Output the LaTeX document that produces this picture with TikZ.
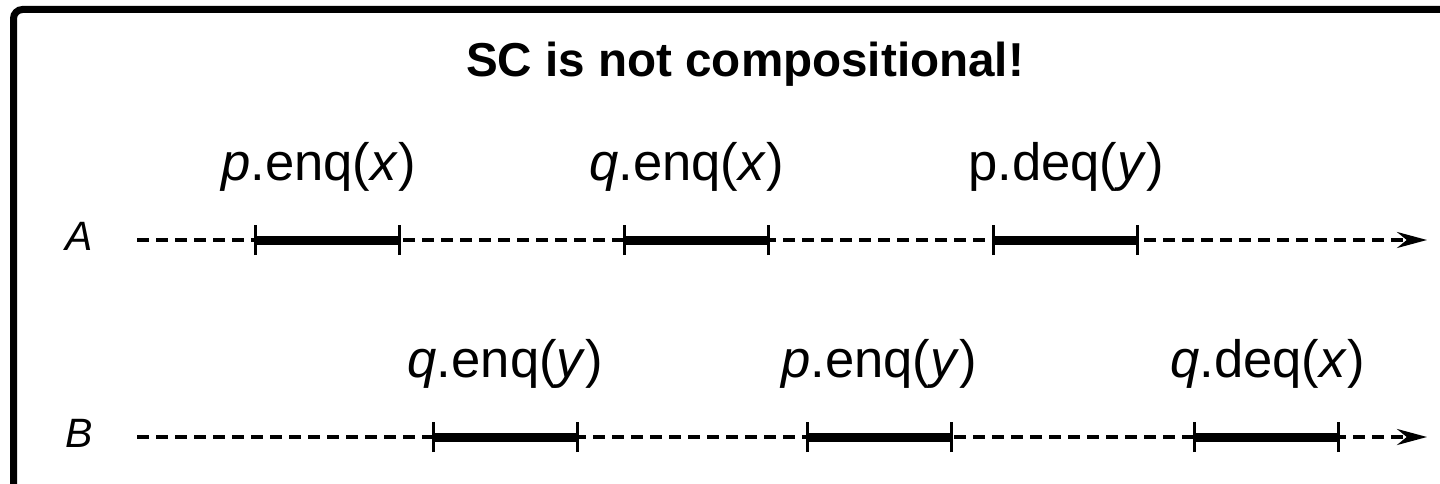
\documentclass[tikz,border=0pt]{standalone}
\usepackage{fontspec}
\setmainfont{Liberation Sans}
\usetikzlibrary{arrows.meta}
\tikzset{
  timeline/.style={line width=3.5pt, dash pattern=on 12pt off 7pt, -{Stealth[length=30pt,width=16pt]}},
  interval/.style={line width=9pt},
  tick/.style={line width=3pt},
  oplabel/.style={anchor=base, inner sep=0pt, font=\fontsize{52.6}{60}\selectfont},
  proclabel/.style={anchor=base, inner sep=0pt, font=\fontsize{41}{48}\selectfont\itshape},
  title/.style={anchor=base, inner sep=0pt, font=\fontsize{47.6}{56}\selectfont\bfseries}
}
\begin{document}
\begin{tikzpicture}[x=1pt,y=-1pt]
\useasboundingbox (0,0) rectangle (1440,484);
\begin{scope}
\clip (0,0) rectangle (1440,484);
\draw[line width=7pt, rounded corners=9pt] (13.5,9.5) rectangle (1470,520);
\end{scope}
\node[title] (title) at (745,77) {SC is not compositional!};
% process A
\node[proclabel] (A) at (79,250) {A};
\coordinate (As) at (137,240);
\coordinate (Ae) at (1427,240);
\draw[timeline] (As) -- (Ae);
\foreach \a/\b/\n in {255/399/a1, 624/768/a2, 993/1137/a3}{
  \coordinate (\n l) at (\a,240);
  \coordinate (\n r) at (\b,240);
  \draw[interval] (\n l) -- (\n r);
  \draw[tick] ([yshift=-15pt]\n l) -- ([yshift=15pt]\n l);
  \draw[tick] ([yshift=-15pt]\n r) -- ([yshift=15pt]\n r);
}
\node[oplabel] (la1) at (318.5,180) {\textit{p}.enq(\textit{x})};
\node[oplabel] (la2) at (686.5,180) {\textit{q}.enq(\textit{x})};
\node[oplabel] (la3) at (1066,180) {p.deq(\textit{y})};
% process B
\node[proclabel] (B) at (79,447) {B};
\coordinate (Bs) at (137,437);
\coordinate (Be) at (1427,437);
\draw[timeline] (Bs) -- (Be);
\foreach \a/\b/\n in {433/577/b1, 807/951/b2, 1194/1338/b3}{
  \coordinate (\n l) at (\a,437);
  \coordinate (\n r) at (\b,437);
  \draw[interval] (\n l) -- (\n r);
  \draw[tick] ([yshift=-15pt]\n l) -- ([yshift=15pt]\n l);
  \draw[tick] ([yshift=-15pt]\n r) -- ([yshift=15pt]\n r);
}
\node[oplabel] (lb1) at (505.5,377) {\textit{q}.enq(\textit{y})};
\node[oplabel] (lb2) at (879,377) {\textit{p}.enq(\textit{y})};
\node[oplabel] (lb3) at (1267.5,377) {\textit{q}.deq(\textit{x})};
\end{tikzpicture}
\end{document}
